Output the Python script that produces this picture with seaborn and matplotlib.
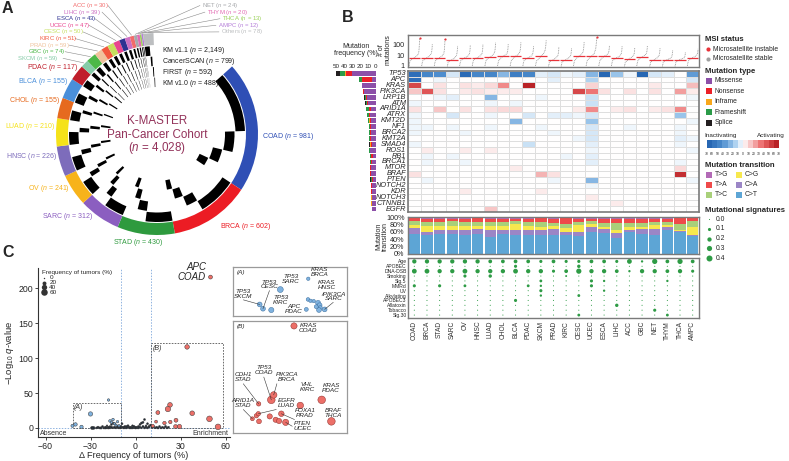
import numpy as np
import pandas as pd
import matplotlib
matplotlib.use("Agg")
import matplotlib.pyplot as plt
import seaborn as sns
from matplotlib.patches import Wedge, Rectangle
from matplotlib.colors import LinearSegmentedColormap

# ======================= DATA : panel A =======================
cohort_types = ["COAD", "BRCA", "STAD", "SARC", "OV", "HNSC", "LUAD", "CHOL", "BLCA", "PDAC",
                "SKCM", "GBC", "PRAD", "KIRC", "CESC", "UCEC", "ESCA", "LIHC", "ACC", "NET",
                "THYM", "THCA", "AMPC", "Others"]
cohort_n = [981, 602, 430, 312, 241, 226, 210, 155, 155, 117, 59, 74, 59, 51, 50, 47, 43, 39,
            30, 24, 20, 13, 12, 78]
cohort_colors = ["#2F4FB5", "#EC1C24", "#2E9A3E", "#8B5EC0", "#F7B31B", "#7D6CBB", "#F5E21A",
                 "#E66A1F", "#4A8FDA", "#C01E2B", "#86CBA8", "#4DB848", "#F0C29C", "#F2583E",
                 "#C5DF5E", "#E9458F", "#2E3192", "#CC6FC2", "#F26B6B", "#A7A9AC", "#E36BB3",
                 "#9BD15A", "#B57FD9", "#BCBEC0"]
platform_names = ["KM v1.1", "CancerSCAN", "FIRST", "KM v1.0"]
platform_n = [2149, 799, 592, 488]
n_km11 = [520, 330, 230, 170, 130, 120, 110, 85, 85, 62, 32, 40, 32, 28, 27, 25, 23, 21, 16, 13, 11, 7, 6, 42]
n_cscan = [200, 110, 90, 60, 45, 45, 42, 30, 30, 24, 12, 15, 12, 10, 10, 9, 9, 8, 6, 5, 4, 3, 3, 16]
n_first = [150, 92, 60, 47, 36, 33, 32, 22, 22, 17, 8, 11, 8, 7, 7, 7, 6, 6, 4, 3, 3, 2, 2, 11]
n_km10 = [111, 70, 50, 35, 30, 28, 26, 18, 18, 14, 7, 8, 7, 6, 6, 6, 5, 4, 4, 3, 2, 1, 1, 9]

# ======================= DATA : panel B =======================
cancers = ["COAD", "BRCA", "STAD", "SARC", "OV", "HNSC", "LUAD", "CHOL", "BLCA", "PDAC", "SKCM",
           "PRAD", "KIRC", "CESC", "UCEC", "ESCA", "LIHC", "ACC", "GBC", "NET", "THYM", "THCA", "AMPC"]
genes = ["TP53", "APC", "KRAS", "PIK3CA", "LRP1B", "ATM", "ARID1A", "ATRX", "KMT2D", "NF1", "BRCA2",
         "KMT2A", "SMAD4", "ROS1", "RB1", "BRCA1", "MTOR", "BRAF", "PTEN", "NOTCH2", "KDR", "NOTCH3",
         "CTNNB1", "EGFR"]
# mutation frequency (%) by mutation type
fq_missense = [30, 5, 17.2, 15.5, 11, 9.5, 6, 7.5, 6.5, 5.8, 6.2, 6.5, 5.5, 7.2, 3.5, 5.5, 6.8, 6.8, 3.5, 5.2, 5.6, 5.2, 5.3, 4.8]
fq_nonsense = [8, 12, 0.1, 0.3, 1.5, 1.5, 3, 1.2, 1.6, 1.5, 0.8, 0.8, 1.2, 0.4, 2.3, 0.8, 0.2, 0.1, 1.2, 0.5, 0.2, 0.3, 0.1, 0.1]
fq_inframe = [1, 0.2, 0.3, 0.6, 0.2, 0.2, 0.2, 0.3, 0.2, 0.2, 0.2, 0.3, 0.3, 0.2, 0.2, 0.2, 0.2, 0.2, 0.2, 0.2, 0.1, 0.2, 0.3, 0.5]
fq_frameshift = [6.5, 4, 0.05, 0.3, 1.5, 1.5, 3, 1.8, 1.8, 1.4, 1.7, 1.2, 1.0, 0.4, 1.5, 1.0, 0.2, 0.05, 1.5, 0.5, 0.2, 0.2, 0.05, 0.05]
fq_splice = [4.5, 0.5, 0.05, 0.1, 0.5, 0.6, 0.3, 0.4, 0.3, 0.3, 0.3, 0.2, 0.5, 0.2, 0.5, 0.3, 0.1, 0.05, 0.5, 0.2, 0.2, 0.1, 0.05, 0.05]
mut_types = ["Missense", "Nonsense", "Inframe", "Frameshift", "Splice"]

# inactivating (-) / activating (+) score, rows = genes, cols = cancers
heat_values = [
    [-60, -45, -40, -8, -62, -45, -45, -25, -50, -45, -5, -8, -3, -5, -25, -65, -20, -3, -65, -8, -5, 0, -35],
    [-60, 0, -3, 0, 0, 0, 0, 0, 0, 0, 0, -5, 0, 0, -15, 0, 0, 0, 0, 0, 0, 0, -8],
    [50, 0, 8, 0, 8, 5, 10, 30, 0, 65, 0, 0, 0, 0, 12, 0, 0, 0, 0, 6, 0, 0, 18],
    [15, 45, 8, 0, 6, 8, 5, 5, 5, 0, 0, 0, 0, 50, 35, 8, 0, 8, 0, 8, 0, 25, 5],
    [0, 0, -3, -5, 0, 0, -25, 0, 0, 0, -3, 0, 0, 0, -10, 0, 0, 0, 0, 0, 0, 0, -3],
    [-3, 0, 0, 0, 0, 0, -3, 0, -3, 0, 0, 0, 0, 0, -10, 0, 0, 0, 0, 0, 0, 0, 0],
    [8, 0, 15, 0, 8, 0, 8, 10, 10, 0, 0, 0, 0, 5, 30, 0, 5, 8, 0, 5, 8, 30, 0],
    [-3, 0, 0, -8, 0, 0, -3, 0, 0, -8, 0, -5, -5, -3, -8, 0, 0, 0, 0, 0, 0, -20, 0],
    [-3, 0, 0, 0, 0, 0, 0, 0, -25, 0, 0, 0, 0, 0, -20, 0, 0, 0, 0, 0, 0, 0, -3],
    [-3, -3, 0, -3, 0, 0, -3, 0, 0, 0, -3, 0, 0, 0, -8, 0, 0, -3, 0, 0, 0, -3, 0],
    [-3, 0, 0, 0, -3, 0, 0, 0, 0, 0, 0, -3, 0, 0, -8, 0, 0, 0, 0, 0, 0, -3, 0],
    [0, 0, 0, 0, 0, 0, 0, 0, 0, 0, 0, 0, 0, -3, -8, 0, 0, 0, 0, 0, 0, -5, -3],
    [-3, 0, 0, 0, 0, 0, 0, 0, 0, -10, 0, 0, 0, 0, -5, 0, 0, 0, 0, 0, 0, -3, 0],
    [0, 5, 0, 0, 5, 0, 5, 0, 0, 0, 0, 0, 0, 0, -3, 0, 0, 0, 0, 0, 0, 0, -3],
    [0, -3, 0, -3, 0, 0, 0, 0, 0, 0, 0, 0, -3, 0, -5, 0, 0, 0, 0, 0, 0, 0, 0],
    [0, -3, 0, 0, -3, 0, 0, 0, 0, 0, 0, 0, 0, 0, -5, 0, 0, 0, 0, 0, 0, -3, 0],
    [0, 0, 0, 0, 0, 0, 0, 0, 5, 0, 0, 0, 0, 0, 0, 0, 0, 0, 0, 0, 0, 10, 0],
    [8, 0, 0, 0, 0, 0, 0, 0, 0, 0, 20, 8, 0, 0, 0, 0, 0, 0, 0, 0, 0, 60, 0],
    [0, -3, 0, 0, 0, 0, 0, 0, 0, 0, 0, -3, 0, 0, -25, 0, 0, 0, 0, 0, 0, 0, -3],
    [0, 0, 0, 0, 0, 0, 0, 0, 0, 0, 0, 0, 0, 0, -3, 0, 0, 0, 0, 0, 0, 0, 0],
    [0, 0, 0, 0, 5, 0, 0, 0, 0, 0, 5, 0, 0, 0, 0, 0, 0, 0, 0, 0, 0, 0, 0],
    [0, 0, 0, 0, 0, 0, 0, 0, 0, 0, 0, 0, 0, 0, 5, 0, 0, 0, 0, 0, 0, 0, 0],
    [0, 0, 0, 0, 0, 0, 0, 0, 0, 0, 0, 0, 0, 0, 0, 0, 5, 0, 0, 0, 0, 0, 0],
    [0, 0, 0, 0, 0, 0, 15, 0, 0, 0, 0, 0, 0, 0, 0, 0, 0, 0, 0, 0, 0, 0, 0],
]

# number of mutations per tumour: quantiles (0,5,10,25,50,75,90,95,99,100 %) per cancer
quantile_levels = [0, 0.05, 0.10, 0.25, 0.50, 0.75, 0.90, 0.95, 0.99, 1.0]
mut_count_quantiles = [
    [1, 2, 3, 4, 6, 9, 15, 40, 200, 400],
    [1, 2, 3, 4, 6, 9, 14, 25, 60, 120],
    [1, 2, 3, 4, 6, 9, 16, 35, 150, 350],
    [1, 1, 2, 3, 4, 6, 10, 18, 40, 80],
    [1, 2, 3, 4, 6, 8, 12, 18, 40, 90],
    [1, 2, 3, 5, 6, 9, 14, 22, 50, 100],
    [1, 2, 3, 5, 7, 11, 18, 30, 80, 150],
    [1, 2, 3, 5, 8, 11, 16, 25, 60, 110],
    [1, 2, 3, 5, 8, 12, 20, 35, 80, 160],
    [1, 2, 3, 4, 6, 8, 12, 18, 40, 70],
    [1, 2, 3, 4, 8, 14, 30, 60, 150, 250],
    [1, 1, 2, 3, 4, 6, 9, 14, 30, 60],
    [1, 1, 2, 3, 4, 6, 8, 12, 25, 50],
    [1, 2, 3, 5, 8, 12, 20, 40, 100, 180],
    [1, 2, 3, 5, 8, 14, 40, 120, 300, 500],
    [1, 2, 3, 5, 8, 11, 16, 25, 50, 90],
    [1, 2, 3, 4, 6, 8, 12, 18, 40, 70],
    [1, 1, 2, 3, 5, 7, 10, 15, 30, 50],
    [1, 2, 3, 5, 7, 10, 14, 22, 50, 80],
    [1, 1, 2, 3, 4, 6, 9, 14, 30, 50],
    [1, 1, 2, 3, 4, 5, 7, 10, 20, 30],
    [1, 1, 2, 3, 4, 5, 6, 8, 12, 20],
    [1, 2, 3, 4, 6, 8, 11, 15, 25, 40],
]
msi_cancers = ["COAD", "STAD", "UCEC"]
msi_counts = [400, 350, 500]

# mutation transition (%)
tr_CT = [55, 50, 54, 53, 52, 55, 46, 54, 52, 51, 51, 51, 51, 49, 60, 56, 42, 60, 54, 51, 65, 60, 49]
tr_CA = [15, 9, 12, 11, 14, 13, 20, 12, 12, 13, 14, 16, 9, 11, 14, 11, 14, 5, 13, 17, 9, 3, 2]
tr_CG = [9, 18, 10, 11, 11, 9, 11, 11, 17, 11, 9, 8, 9, 18, 7, 7, 9, 7, 7, 10, 4, 2, 23]
tr_TC = [9, 9, 10, 13, 10, 10, 9, 10, 9, 12, 13, 9, 12, 9, 8, 9, 18, 12, 10, 9, 9, 16, 16]
tr_TA = [8, 9, 9, 7, 8, 9, 8, 8, 5, 8, 9, 11, 15, 8, 6, 12, 12, 11, 11, 7, 8, 15, 6]
tr_TG = [4, 5, 5, 5, 5, 4, 6, 5, 5, 5, 4, 5, 4, 5, 5, 5, 5, 5, 5, 6, 5, 4, 4]

# mutational signatures (relative contribution)
sig_names = ["Age", "APOBEC", "DNA-DSB", "Smoking", "Sig.5", "MMRd", "UV", "Alkylating",
             "APOBEC3", "Aflatoxin", "Tobacco", "Sig.30"]
sig_values = [
    [0.2, 0.2, 0.2, 0.2, 0.2, 0.2, 0.15, 0.15, 0.15, 0.15, 0.1, 0.15, 0.1, 0.1, 0.15, 0.15, 0.1, 0.25, 0.05, 0.3, 0.15, 0.3, 0.15],
    [0, 0, 0, 0, 0, 0, 0, 0, 0.1, 0, 0, 0, 0, 0.12, 0, 0, 0, 0, 0, 0, 0, 0, 0],
    [0.25, 0.25, 0.2, 0.2, 0.25, 0.2, 0.2, 0.2, 0.25, 0.2, 0.2, 0.1, 0.15, 0.3, 0.2, 0.2, 0.15, 0.05, 0.2, 0.2, 0.15, 0.2, 0.1],
    [0, 0, 0, 0, 0.1, 0, 0.12, 0, 0, 0, 0, 0, 0.03, 0, 0, 0, 0, 0, 0, 0, 0, 0, 0],
    [0, 0, 0, 0, 0, 0, 0, 0, 0, 0, 0.08, 0, 0, 0, 0.1, 0.05, 0, 0, 0, 0, 0.05, 0, 0],
    [0.1, 0, 0.1, 0, 0.08, 0, 0, 0, 0, 0.08, 0.05, 0, 0, 0, 0.1, 0, 0, 0, 0, 0, 0, 0, 0],
    [0, 0, 0, 0, 0, 0, 0, 0, 0, 0, 0.1, 0, 0, 0, 0, 0.05, 0, 0, 0, 0, 0, 0, 0],
    [0, 0, 0, 0, 0, 0, 0, 0, 0, 0, 0.05, 0, 0, 0.08, 0, 0, 0, 0, 0, 0, 0, 0, 0],
    [0, 0, 0, 0, 0, 0, 0, 0, 0.1, 0, 0, 0, 0, 0, 0, 0, 0, 0, 0, 0, 0, 0, 0],
    [0, 0, 0, 0, 0, 0, 0, 0, 0, 0, 0, 0, 0, 0, 0, 0, 0.12, 0, 0, 0, 0, 0, 0],
    [0, 0, 0, 0, 0, 0, 0, 0, 0, 0, 0, 0, 0, 0, 0, 0, 0, 0, 0, 0.1, 0, 0, 0],
    [0, 0, 0, 0, 0, 0, 0, 0, 0, 0, 0, 0, 0, 0.08, 0, 0, 0, 0, 0, 0, 0.08, 0, 0],
]

# ======================= DATA : panel C =======================
abs_dx = [-42, -40, -36, -30, -18, -17, -16, -15, -14, -13, -12, -11]
abs_q = [3, 5, 1.5, 20, 40, 10, 8, 12, 6, 4, 9, 3]
abs_freq = [12, 15, 14, 25, 6, 8, 6, 7, 6, 5, 6, 5]
ns_dx = [-29, -28, -26, -25, -24, -23, -22, -21,
         -20, -20, -19, -19, -18, -18, -17, -17, -16, -16,
         -15, -15, -14, -14, -13, -13, -12, -12, -11, -11,
         -10, -10, -9, -9, -8, -8, -7, -7, -6, -6,
         -5, -5, -4, -4, -3, -3, -2, -2, -1, -1,
         0, 0, 1, 1, 2, 2, 3, 3, 4, 4,
         5, 5, 6, 6, 7, 7, 8, 8, 9, 9,
         10, 11, 12, 13, 14, 15, 16, 17, 18, 19,
         20, 21, 22]
ns_q = [0, 0, 0, 1, 0, 0, 2, 0,
        1, 0, 3, 0, 0, 1, 2, 0, 5, 1,
        7, 0, 6, 1, 4, 0, 1, 2, 3, 0,
        2, 0, 6, 1, 1, 0, 0, 2, 2, 0,
        1, 3, 0, 1, 1, 0, 3, 0, 0, 2,
        1, 0, 0, 1, 2, 0, 5, 1, 7, 0,
        8, 2, 12, 0, 3, 1, 6, 0, 2, 1,
        4, 1, 2, 0, 1, 0, 2, 0, 1, 0,
        2, 0, 1]
ns_freq = [10, 10, 3, 4, 3, 5, 3, 4,
           3, 4, 2, 3, 4, 3, 2, 3, 3, 4,
           3, 2, 3, 4, 3, 3, 2, 4, 3, 3,
           4, 3, 3, 2, 4, 3, 3, 4, 2, 3,
           3, 4, 3, 2, 3, 4, 3, 3, 2, 4,
           3, 4, 3, 2, 4, 3, 3, 3, 4, 2,
           3, 4, 3, 3, 2, 4, 3, 3, 4, 2,
           3, 4, 3, 2, 3, 4, 3, 3, 2, 3,
           4, 3, 3]
enr_dx = [34.4, 55, 49.3, 37.8, 23, 21.6, 14.9, 27, 23.2, 29.3, 26.7, 19.3, 13.7, 11.5, 50]
enr_q = [116, 1.5, 13, 21, 33, 27, 22, 11, 8.5, 2, 2, 7, 9, 3, 216]
enr_freq = [28, 45, 45, 30, 30, 40, 20, 20, 15, 25, 20, 15, 10, 12, 20]

# insets (positions in % of inset box)
insA_x = [23.4, 26.3, 33.6, 41.5, 64.3, 66, 65.8, 68, 70.8, 74.6, 76, 76.6, 75.4, 80.4, 73]
insA_y = [23.6, 14.9, 12.2, 54, 13.5, 76, 33.8, 31, 30.4, 27, 22, 17, 12.2, 13.5, 19]
insA_s = [12, 12, 14, 18, 8, 6, 7, 6, 6, 12, 12, 8, 12, 12, 8]
insB_x = [53.5, 33.6, 35.7, 22.5, 59, 77.8, 86.3, 17, 20.5, 22.2, 22.8, 32.2, 37.4, 40.4, 42.4, 46.2]
insB_y = [95.6, 29.6, 34, 26, 24.6, 29.6, 10.4, 12.7, 15.4, 17.2, 10.4, 14.8, 11.8, 10.7, 17.2, 9.5]
insB_s = [20, 30, 22, 10, 22, 30, 30, 8, 10, 10, 12, 14, 14, 14, 16, 20]

# ======================= STYLE =======================
sns.set_theme(style="white")
plt.rcParams["font.family"] = ["Liberation Sans", "DejaVu Sans"]
plt.rcParams["mathtext.fontset"] = "custom"
plt.rcParams["mathtext.rm"] = "Liberation Sans"
plt.rcParams["mathtext.it"] = "Liberation Sans:italic"
plt.rcParams["mathtext.bf"] = "Liberation Sans:bold"
plt.rcParams["axes.linewidth"] = 0.8

W, H = 789, 461
fig = plt.figure(figsize=(W / 100, H / 100), dpi=100)


def px_axes(x0, y0, x1, y1):
    return fig.add_axes([x0 / W, 1 - y1 / H, (x1 - x0) / W, (y1 - y0) / H])


for t, x, y in [("A", 2, 1), ("B", 342, 10), ("C", 2, 245)]:
    fig.text(x / W, 1 - y / H, t, fontsize=11.5, fontweight="bold", va="top", ha="left")

# ======================= PANEL A =======================
axA = px_axes(0, 0, 330, 252)
axA.set_xlim(0, 330)
axA.set_ylim(252, 0)
axA.axis("off")
cx, cy = 157, 134
R_out, R_in = 101, 89
a_start, a_span = 48, 310
total = sum(cohort_n)
sectors = []
a = a_start
for n, col in zip(cohort_n, cohort_colors):
    a1 = a + n / total * a_span
    axA.add_patch(Wedge((cx, cy), R_out, a - 90, a1 - 90, width=R_out - R_in, facecolor=col,
                        edgecolor="none"))
    sectors.append((a, a1))
    a = a1

track_r = [(88, 78.5), (77.5, 68), (67, 57.5), (56.5, 47)]
for (a0, a1), n, counts in zip(sectors, cohort_n, zip(n_km11, n_cscan, n_first, n_km10)):
    cum = 0
    for p, c in enumerate(counts):
        s0 = a0 + cum / n * (a1 - a0)
        cum += c
        s1 = a0 + cum / n * (a1 - a0)
        ro, ri = track_r[p]
        axA.add_patch(Wedge((cx, cy), ro, s0 - 90, s1 - 90, width=ro - ri, facecolor="black",
                            edgecolor="none"))

# label layout: x_left, y, leader start x (None = no leader)
label_layout = {
    "COAD": (262, 137, None), "BRCA": (220, 227, None), "STAD": (113, 243, None),
    "SARC": (42, 217, None), "OV": (28, 188, None), "HNSC": (6, 157, None),
    "LUAD": (5, 127, None), "CHOL": (9, 100, None), "BLCA": (18, 81.5, None),
    "PDAC": (27, 67.5, None), "SKCM": (17, 58.3, 63), "GBC": (28, 51.7, 65),
    "PRAD": (29, 45.1, 69), "KIRC": (39, 38.5, 75), "CESC": (43, 31.9, 83),
    "UCEC": (49, 25.3, 89), "ESCA": (56, 18.7, 95), "LIHC": (63, 12.1, 102),
    "ACC": (72, 5.5, 108), "NET": (202, 5.5, 200), "THYM": (207, 12.1, 205),
    "THCA": (222, 18.7, 220), "AMPC": (218, 25.3, 216), "Others": (221, 31.9, 219),
}
for name, n, col, (a0, a1) in zip(cohort_types, cohort_n, cohort_colors, sectors):
    x, y, lx = label_layout[name]
    fs = 4.3 if lx is not None else 5
    axA.text(x, y, f"{name} ($n$ = {n:,})", fontsize=fs, color=col, ha="left", va="center")
    if lx is not None:
        th = np.deg2rad((a0 + a1) / 2 - 90)
        rx, ry = cx + (R_out + 1) * np.cos(th), cy + (R_out + 1) * np.sin(th)
        axA.plot([lx, rx], [y, ry], color="#8a8a8a", lw=0.4)

for i, (pn, pc) in enumerate(zip(platform_names, platform_n)):
    axA.text(162, 51 + i * 10.7, f"{pn} ($n$ = {pc:,})", fontsize=5, color="#222222",
             ha="left", va="center")

ctr_col = "#93325A"
axA.text(cx, 121, "K-MASTER", fontsize=8.4, color=ctr_col, ha="center", va="center")
axA.text(cx, 134.5, "Pan-Cancer Cohort", fontsize=8.4, color=ctr_col, ha="center", va="center")
axA.text(cx, 148, f"($n$ = {total:,})", fontsize=8.4, color=ctr_col, ha="center", va="center")

# ======================= PANEL B =======================
ncol = len(cancers)
ngene = len(genes)
mt_colors = ["#8C4FA8", "#EC2027", "#F9A81B", "#2B9B48", "#231F20"]
tr_colors = {"T>G": "#B36AB6", "T>A": "#EF4A4A", "T>C": "#A9D07A", "C>G": "#F7E84E",
             "C>A": "#9B86C6", "C>T": "#5DA5D5"}
sig_green = "#2E9B45"
box_col = "#7a7a7a"

# --- mutation counts panel
axM = px_axes(408, 35, 699, 67)
for j, vals in enumerate(mut_count_quantiles):
    xs = [j + 0.08 + 0.84 * f for f in quantile_levels]
    axM.plot(xs, vals, ls=(0, (1, 1)), color="#8c8c8c", lw=0.6)
    axM.hlines(vals[4], j + 0.04, j + 0.96, color="#E8333A", lw=0.9)
for c, v in zip(msi_cancers, msi_counts):
    j = cancers.index(c)
    axM.scatter([j + 0.92], [v], s=2.5, color="#E8333A", linewidths=0, zorder=3)
axM.set_yscale("log")
axM.set_ylim(0.8, 800)
axM.set_xlim(0, ncol)
axM.set_xticks([])
axM.set_yticks([1, 10, 100])
axM.set_yticklabels(["1", "10", "100"])
axM.minorticks_off()
axM.tick_params(axis="y", labelsize=5.2, length=1.5, pad=1, width=0.5)
for s in axM.spines.values():
    s.set_color(box_col)
    s.set_linewidth(1.0)
fig.text(385 / W, 1 - 50 / H, "# of\nmutations", rotation=90, fontsize=5, ha="center",
         va="center", linespacing=0.95)

# --- mutation frequency bars
axF = px_axes(330, 70.7, 376, 212)
left = np.zeros(ngene)
for vals, col in zip([fq_missense, fq_nonsense, fq_inframe, fq_frameshift, fq_splice], mt_colors):
    axF.barh(np.arange(ngene) + 0.5, vals, left=left, height=0.8, color=col, linewidth=0)
    left += np.array(vals)
axF.set_xlim(57.5, 0)
axF.set_ylim(ngene, 0)
axF.xaxis.tick_top()
axF.set_xticks([50, 40, 30, 20, 10, 0])
axF.tick_params(axis="x", labelsize=4.5, length=0, pad=1.5)
axF.set_yticks([])
for s in axF.spines.values():
    s.set_visible(False)
fig.text(356 / W, 1 - 50 / H, "Mutation\nfrequency (%)", fontsize=5, ha="center", va="center",
         linespacing=1.0)

# --- heatmap
div_cmap = LinearSegmentedColormap.from_list(
    "div", [(0, "#1f5fae"), (0.22, "#4f8fcf"), (0.38, "#a6cdee"), (0.5, "#ffffff"),
            (0.62, "#f6c0c0"), (0.78, "#eb6464"), (1, "#b0161b")])
axH = px_axes(408, 70.7, 699, 212)
df_heat = pd.DataFrame(heat_values, index=genes, columns=cancers)
sns.heatmap(df_heat, ax=axH, cmap=div_cmap, vmin=-70, vmax=70, cbar=False, linewidths=0.5,
            linecolor="#dedede", xticklabels=False, yticklabels=True)
axH.tick_params(axis="y", length=0, pad=1.5, labelsize=5.3)
for t in axH.get_yticklabels():
    t.set_style("italic")
    t.set_rotation(0)
axH.set_xlabel("")
axH.set_ylabel("")
for s in axH.spines.values():
    s.set_visible(True)
    s.set_color(box_col)
    s.set_linewidth(1.2)

# --- transitions
axT = px_axes(408, 217, 699, 254)
bottom = np.zeros(ncol)
for name, vals in zip(["C>T", "C>A", "C>G", "T>C", "T>A", "T>G"],
                      [tr_CT, tr_CA, tr_CG, tr_TC, tr_TA, tr_TG]):
    axT.bar(np.arange(ncol) + 0.5, vals, bottom=bottom, width=0.9, color=tr_colors[name],
            linewidth=0)
    bottom += np.array(vals)
axT.set_xlim(0, ncol)
axT.set_ylim(0, 100)
axT.set_xticks([])
axT.set_yticks([0, 20, 40, 60, 80, 100])
axT.set_yticklabels(["0%", "20%", "40%", "60%", "80%", "100%"])
axT.tick_params(axis="y", labelsize=5.2, length=1.5, pad=1, width=0.5)
for s in axT.spines.values():
    s.set_color(box_col)
    s.set_linewidth(1.0)
fig.text(382 / W, 1 - 236 / H, "Mutation\ntransition", rotation=90, fontsize=5, ha="center",
         va="center", linespacing=0.95)

# --- signatures
axS = px_axes(408, 258, 699, 318)
for i, vals in enumerate(sig_values):
    axS.scatter(np.arange(ncol) + 0.5, [i] * ncol, s=[0.6 + 45 * v for v in vals],
                color=sig_green, linewidths=0)
axS.set_xlim(0, ncol)
axS.set_ylim(len(sig_names) - 0.4, -0.7)
axS.set_yticks(range(len(sig_names)))
axS.set_yticklabels(sig_names)
axS.set_xticks(np.arange(ncol) + 0.5)
axS.set_xticklabels(cancers, rotation=90)
axS.tick_params(axis="y", labelsize=3.6, length=0, pad=1)
axS.tick_params(axis="x", labelsize=4.8, length=0, pad=2, labelcolor="#333333")
for s in axS.spines.values():
    s.set_color(box_col)
    s.set_linewidth(1.0)

# --- legends (pixel coordinates)
axL = px_axes(700, 28, 789, 265)
axL.set_xlim(700, 789)
axL.set_ylim(265, 28)
axL.axis("off")
tfs, ifs = 5.6, 4.9
axL.text(705, 39, "MSI status", fontsize=tfs, fontweight="bold", va="center")
axL.scatter([708], [49], s=9, color="#E8333A", linewidths=0)
axL.text(713, 49, "Microsatellite instable", fontsize=ifs, va="center")
axL.scatter([708], [58.5], s=9, color="#A0A0A0", linewidths=0)
axL.text(713, 58.5, "Microsatellite stable", fontsize=ifs, va="center")
axL.text(705, 71, "Mutation type", fontsize=tfs, fontweight="bold", va="center")
for k, (nm, col) in enumerate(zip(mut_types, mt_colors)):
    yy = 80.5 + k * 10.6
    axL.add_patch(Rectangle((706, yy - 3), 5.5, 6, facecolor=col, edgecolor="none"))
    axL.text(714.5, yy, nm, fontsize=ifs, va="center")
axL.text(704, 135, "Inactivating", fontsize=4.6, va="center")
axL.text(785, 135, "Activating", fontsize=4.6, va="center", ha="right")
bounds = list(range(-70, 71, 10))
bw = 72 / 14
for k in range(14):
    mid = (bounds[k] + bounds[k + 1]) / 2
    axL.add_patch(Rectangle((707 + k * bw, 140), bw, 8, facecolor=div_cmap((mid + 70) / 140),
                            edgecolor="none"))
for k, b in enumerate(bounds):
    axL.text(707 + k * bw, 153.5, str(abs(b)), fontsize=2.4, ha="center", va="center")
axL.text(705, 165, "Mutation transition", fontsize=tfs, fontweight="bold", va="center")
for k, (l, r) in enumerate([("T>G", "C>G"), ("T>A", "C>A"), ("T>C", "C>T")]):
    yy = 174.5 + k * 10
    axL.add_patch(Rectangle((706, yy - 3), 5.5, 6, facecolor=tr_colors[l], edgecolor="none"))
    axL.text(714.5, yy, l, fontsize=ifs, va="center")
    axL.add_patch(Rectangle((736, yy - 3), 5.5, 6, facecolor=tr_colors[r], edgecolor="none"))
    axL.text(744.5, yy, r, fontsize=ifs, va="center")
axL.text(705, 210, "Mutational signatures", fontsize=tfs, fontweight="bold", va="center")
for k, v in enumerate([0.0, 0.1, 0.2, 0.3, 0.4]):
    yy = 219 + k * 9.8
    axL.scatter([709], [yy], s=0.6 + 45 * v, color=sig_green, linewidths=0)
    axL.text(715.5, yy, f"{v:.1f}", fontsize=ifs, va="center")

# ======================= PANEL C =======================
axC = px_axes(38, 268, 230, 437)
dfC = pd.DataFrame({
    "dx": ns_dx + abs_dx + enr_dx,
    "q": ns_q + abs_q + enr_q,
    "freq": ns_freq + abs_freq + enr_freq,
    "grp": ["ns"] * len(ns_dx) + ["absence"] * len(abs_dx) + ["enrich"] * len(enr_dx),
})
size_range = (1.0, 22.0)


def size_of(f):
    return size_range[0] + f / 60 * (size_range[1] - size_range[0])


axC.axvline(-10, color="#8FB3E0", lw=0.7, ls=(0, (1.5, 1.5)), zorder=0)
axC.axvline(10, color="#8FB3E0", lw=0.7, ls=(0, (1.5, 1.5)), zorder=0)
axC.axhline(0, color="#8FB3E0", lw=0.7, ls=(0, (1.5, 1.5)), zorder=0)
axC.add_patch(Rectangle((-42, 0), 32, 36, fill=False, edgecolor="#555555", lw=0.6, ls=(0, (2, 1.5))))
axC.add_patch(Rectangle((10, 0), 48, 122, fill=False, edgecolor="#555555", lw=0.6, ls=(0, (2, 1.5))))
sns.scatterplot(data=dfC, x="dx", y="q", hue="grp", size="freq", sizes=size_range,
                size_norm=(0, 60), palette={"ns": "#1f2a36", "absence": "#7FB2DF", "enrich": "#EC6F68"},
                edgecolor="#3a3a3a", linewidth=0.35, legend=False, ax=axC, zorder=3)
axC.set_xlim(-65, 63)
axC.set_ylim(-13, 229)
axC.set_xticks([-60, -30, 0, 30, 60])
axC.set_yticks([0, 50, 100, 150, 200])
axC.tick_params(labelsize=6.3, length=2.5, width=0.6, pad=1, direction="out", left=True,
                bottom=True)
sns.despine(ax=axC)
axC.spines["left"].set_color("#333333")
axC.spines["bottom"].set_color("#333333")
axC.set_xlabel("Δ Frequency of tumors (%)", fontsize=6.6, labelpad=0)
axC.set_ylabel("−Log$_{10}$ $q$-value", fontsize=6.8, labelpad=2)
axC.text(-63.5, -7.5, "Absence", fontsize=5, va="center", ha="left", color="#333333")
axC.text(62, -7.5, "Enrichment", fontsize=5, va="center", ha="right", color="#333333")
axC.text(-41, 29, "(A)", fontsize=5, style="italic", color="#333333", va="center")
axC.text(11.5, 114, "(B)", fontsize=5, style="italic", color="#333333", va="center")
axC.text(47, 223, "APC\nCOAD", fontsize=7, style="italic", ha="right", va="center",
         linespacing=0.95)
# size legend
axC.text(-62, 223, "Frequency of tumors (%)", fontsize=4.6, va="center", ha="left")
for k, f in enumerate([0, 20, 40, 60]):
    yy = 215 - k * 6.8
    axC.scatter([-61.3], [yy], s=size_of(f), color="#333333", linewidths=0)
    axC.text(-57.5, yy, str(f), fontsize=4.6, va="center", ha="left")

# --- inset A
axIA = px_axes(233, 267, 347, 316)
axIA.scatter(insA_x, insA_y, s=insA_s, color="#7FB2DF", edgecolor="#3d6f9e", linewidths=0.35)
axIA.set_xlim(0, 100)
axIA.set_ylim(0, 100)
axIA.set_xticks([])
axIA.set_yticks([])
for s in axIA.spines.values():
    s.set_color("#9a9a9a")
    s.set_linewidth(0.9)
lab_fs = 4.6
axIA.text(3, 88, "(A)", fontsize=4.6, style="italic", va="center")
insA_labels = [("TP53\nSKCM", 9, 45, (23.4, 23.6)), ("TP53\nCESC", 32, 64, (26.3, 14.9)),
               ("TP53\nSARC", 51, 75, None), ("TP53\nKIRC", 42, 33, None),
               ("APC\nPDAC", 53, 14, None), ("KRAS\nBRCA", 76, 90, None),
               ("KRAS\nHNSC", 82, 63, None), ("/PIK3CA\nSARC", 88, 40, (80.4, 13.5))]
for txt, x, y, tgt in insA_labels:
    axIA.text(x, y, txt, fontsize=lab_fs, style="italic", ha="center", va="center",
              linespacing=0.9, color="#222222")
    if tgt is not None:
        axIA.plot([x, tgt[0]], [y - 12, tgt[1]], color="#333333", lw=0.4)

# --- inset B
axIB = px_axes(233, 321, 347, 433)
axIB.scatter(insB_x, insB_y, s=insB_s, color="#EC6F68", edgecolor="#8e2f2b", linewidths=0.35)
axIB.set_xlim(0, 100)
axIB.set_ylim(0, 100)
axIB.set_xticks([])
axIB.set_yticks([])
for s in axIB.spines.values():
    s.set_color("#9a9a9a")
    s.set_linewidth(0.9)
axIB.text(3, 95, "(B)", fontsize=4.6, style="italic", va="center")
insB_labels = [("KRAS\nCOAD", 66, 94, None), ("TP53\nCOAD", 27, 56, (33.6, 29.6)),
               ("CDH1\nSTAD", 9, 50, (22.5, 26)), ("PIK3CA\nBRCA", 47.5, 50, (35.7, 34)),
               ("VHL\nKIRC", 65, 41, None), ("KRAS\nPDAC", 86, 40, None),
               ("EGFR\nLUAD", 47, 27, (22.2, 17.2)), ("ARID1A\nSTAD", 9, 27, (17, 12.7)),
               ("FOXA1\nPRAD", 63, 18, (42.4, 17.2)), ("BRAF\nTHCA", 88, 18, None),
               ("PTEN\nUCEC", 61, 6, (46.2, 9.5))]
for txt, x, y, tgt in insB_labels:
    axIB.text(x, y, txt, fontsize=lab_fs, style="italic", ha="center", va="center",
              linespacing=0.9, color="#222222")
    if tgt is not None:
        sx = x - 9 if tgt[0] < x - 9 else x
        sy = y - 6 if tgt[1] < y else y
        axIB.plot([sx, tgt[0]], [sy, tgt[1]], color="#333333", lw=0.4)

fig.savefig("out.png", dpi=100)
